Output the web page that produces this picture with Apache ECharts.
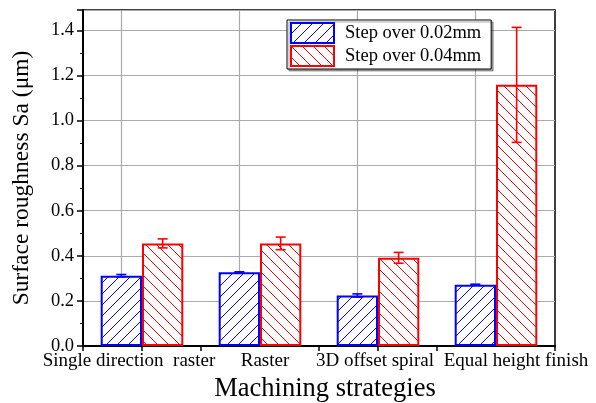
<!DOCTYPE html>
<html>
<head>
<meta charset="utf-8">
<script src="https://cdn.jsdelivr.net/npm/echarts@6/dist/echarts.min.js"></script>
<style>
  html, body { margin: 0; padding: 0; background: #fff; }
  #main { width: 596px; height: 403px; }
</style>
</head>
<body>
<div id="main"></div>
<script>
var strategies = ['Single direction  raster', 'Raster', '3D offset spiral', 'Equal height finish'];
var seriesNames = ['Step over 0.02mm', 'Step over 0.04mm'];
var sa002 = [0.312, 0.327, 0.224, 0.272];
var err002 = [0.005, 0.002, 0.007, 0.002];
var sa004 = [0.455, 0.455, 0.391, 1.158];
var err004 = [0.02, 0.028, 0.024, 0.255];

var FONT = 'Liberation Serif';
var BAR_FRAC = 0.35;
// horizontal nudge of each category label so they do not collide (px)
var labelShift = [-13, 5, -3, 20];

// hatch tile: diagonal lines on white
function hatch(color, forward) {
    var s = 11;
    var c = document.createElement('canvas');
    c.width = s; c.height = s;
    var ctx = c.getContext('2d');
    ctx.fillStyle = '#fff';
    ctx.fillRect(0, 0, s, s);
    ctx.strokeStyle = color;
    ctx.lineWidth = 1;
    ctx.beginPath();
    if (forward) {
        ctx.moveTo(0, s); ctx.lineTo(s, 0);
        ctx.moveTo(-1, 1); ctx.lineTo(1, -1);
        ctx.moveTo(s - 1, s + 1); ctx.lineTo(s + 1, s - 1);
    } else {
        ctx.moveTo(0, 0); ctx.lineTo(s, s);
        ctx.moveTo(s - 1, -1); ctx.lineTo(s + 1, 1);
        ctx.moveTo(-1, s - 1); ctx.lineTo(1, s + 1);
    }
    ctx.stroke();
    return { image: c, repeat: 'repeat' };
}

function errorSeries(vals, errs, color, side) {
    return {
        type: 'custom',
        silent: true,
        z: 5,
        data: vals.map(function (v, i) { return [i, v, errs[i]]; }),
        renderItem: function (params, api) {
            var i = api.value(0), v = api.value(1), e = api.value(2);
            var bw = api.size([1, 0])[0] * BAR_FRAC;
            var top = api.coord([i, v + e]);
            var bot = api.coord([i, v - e]);
            var x = top[0] + side * bw / 2;
            var cap = 5;
            var st = { stroke: color, lineWidth: 1.6 };
            return {
                type: 'group',
                children: [
                    { type: 'line', shape: { x1: x, y1: top[1], x2: x, y2: bot[1] }, style: st },
                    { type: 'line', shape: { x1: x - cap, y1: top[1], x2: x + cap, y2: top[1] }, style: st },
                    { type: 'line', shape: { x1: x - cap, y1: bot[1], x2: x + cap, y2: bot[1] }, style: st }
                ]
            };
        }
    };
}

var labelRich = {};
labelShift.forEach(function (d, i) {
    labelRich['c' + i] = {
        fontFamily: FONT, fontSize: 19, color: '#000',
        padding: d >= 0 ? [0, 0, 0, 2 * d] : [0, -2 * d, 0, 0]
    };
});

var chart = echarts.init(document.getElementById('main'));
chart.setOption({
    animation: false,
    backgroundColor: '#fff',
    textStyle: { fontFamily: FONT },
    grid: {
        left: 83, right: 41, top: 10, bottom: 57,
        outerBoundsMode: 'none',
        show: true, borderColor: '#000', borderWidth: 1.5
    },
    legend: {
        data: seriesNames,
        orient: 'vertical',
        left: 287, top: 20,
        padding: [2, 10, 2, 3],
        itemGap: 1,
        itemWidth: 43, itemHeight: 20,
        borderColor: '#000', borderWidth: 1,
        shadowColor: 'rgba(0,0,0,0.35)', shadowOffsetX: 2, shadowOffsetY: 2, shadowBlur: 0,
        backgroundColor: '#fff',
        icon: 'rect',
        textStyle: { fontFamily: FONT, fontSize: 18.5, color: '#000', padding: [0, 0, 0, 6] }
    },
    xAxis: [
        {
            type: 'category',
            data: strategies,
            name: 'Machining strategies',
            nameLocation: 'middle',
            nameGap: 22,
            nameTextStyle: { fontFamily: FONT, fontSize: 26.5, color: '#000', padding: [0, 0, 0, 12] },
            axisLine: { lineStyle: { color: '#000', width: 2 } },
            axisTick: { show: true, length: 5, lineStyle: { color: '#000', width: 1.5 } },
            axisLabel: {
                fontFamily: FONT, fontSize: 19, color: '#000', margin: 6, interval: 0,
                formatter: function (v, i) { return '{c' + i + '|' + v + '}'; },
                rich: labelRich
            },
            splitLine: { show: false }
        },
        {
            // second axis only for the ticks under each category centre
            type: 'category',
            data: strategies,
            position: 'bottom',
            axisLine: { show: false },
            axisTick: { show: true, alignWithLabel: true, length: 5, lineStyle: { color: '#000', width: 1.5 } },
            axisLabel: { show: false },
            splitLine: { show: false }
        }
    ],
    yAxis: {
        type: 'value',
        min: 0, max: 1.49, interval: 0.2,
        name: 'Surface roughness Sa (\u03bcm)',
        nameLocation: 'middle',
        nameGap: 49,
        nameTextStyle: { fontFamily: FONT, fontSize: 23.5, color: '#000' },
        axisLine: { show: true, lineStyle: { color: '#000', width: 2 } },
        axisTick: { show: true, length: 6, lineStyle: { color: '#000', width: 1.5 } },
        minorTick: { show: true, splitNumber: 2, length: 3, lineStyle: { color: '#000', width: 1 } },
        axisLabel: {
            fontFamily: FONT, fontSize: 18.5, color: '#000', margin: 9, showMaxLabel: false,
            formatter: function (v) { return v.toFixed(1); }
        },
        splitLine: { show: true, lineStyle: { color: '#aaa', width: 1.2 } }
    },
    series: [
        {
            name: seriesNames[0],
            type: 'bar',
            data: sa002,
            barWidth: (BAR_FRAC * 100) + '%',
            barGap: '0%',
            itemStyle: { color: hatch('#0000ff', true), borderColor: '#0000ff', borderWidth: 2 },
            markLine: {
                silent: true,
                symbol: 'none',
                z: 1,
                label: { show: false },
                lineStyle: { color: '#aaa', width: 1.2, type: 'solid' },
                data: strategies.map(function (s) { return { xAxis: s }; })
            }
        },
        {
            name: seriesNames[1],
            type: 'bar',
            data: sa004,
            barWidth: (BAR_FRAC * 100) + '%',
            barGap: '0%',
            itemStyle: { color: hatch('#ff0000', false), borderColor: '#ff0000', borderWidth: 2 }
        },
        errorSeries(sa002, err002, '#0000ff', -1),
        errorSeries(sa004, err004, '#ff0000', 1)
    ]
});
</script>
</body>
</html>
